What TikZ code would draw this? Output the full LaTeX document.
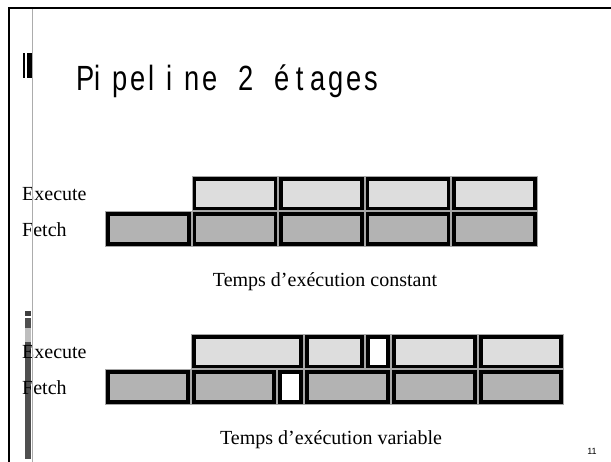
\documentclass[tikz,border=0pt]{standalone}
\usepackage{fontspec}
\setmainfont{Liberation Serif}
\newfontfamily\titlefont[FakeStretch=0.78]{Liberation Sans}
\newfontfamily\pagefont{Liberation Sans}
\definecolor{execgray}{HTML}{DDDDDD}
\definecolor{fetchgray}{HTML}{B3B3B3}
\definecolor{bardark}{HTML}{4F4F4F}
\definecolor{barlight}{HTML}{BEBEBE}
\makeatletter
\newcommand\monocells[1]{\@tfor\mc@char:=#1\do{\makebox[18pt][l]{\mc@char}}}
\makeatother
\tikzset{
  stage/.style={rectangle, inner sep=0pt, outer sep=0pt, draw=black, line width=3.6pt,
    minimum height=29.9pt, preaction={draw=gray!70, line width=5.6pt}},
  fetchbox/.style={stage, fill=fetchgray},
  execbox/.style={stage, fill=execgray},
  bubble/.style={stage, fill=white},
  rowlabel/.style={anchor=west, inner sep=0pt, font=\fontsize{20}{20}\selectfont},
  caption/.style={inner sep=0pt, font=\fontsize{20}{20}\selectfont},
}
\begin{document}
\begin{tikzpicture}[x=1pt, y=-1pt]
    \useasboundingbox (0,0) rectangle (611,462);
    \draw [line width=2pt] (9,462) -- (9,8) -- (611,8);
    \fill (23,53) rectangle (25,78);
    \fill (27,53) rectangle (33,78);
    \fill [bardark!80!black] (25,311) rectangle (31,316);
    \fill [bardark] (25,318) rectangle (31,328);
    \fill [barlight] (25,328) rectangle (31,342);
    \fill [bardark] (25,342) rectangle (31,459);
    \node [anchor=base west, inner sep=0pt, font=\titlefont\fontsize{35}{35}\selectfont] (title) at (76,91) {\monocells{Pipeline{ }2{ }é{\makebox[15pt][c]{t}}ages}};
    \foreach \i in {0,...,4}
        \node [fetchbox, minimum width=81pt] (tf\i) at ({148.3+86.6*\i}, 229.25) {};
    \foreach \i in {1,...,4}
        \node [execbox, minimum width=81pt] (te\i) at ({148.3+86.6*\i}, 193.75) {};
    \foreach \l/\r/\s/\n in {105/191/fetchbox/vf1, 191/277/fetchbox/vf2, 277/304/bubble/vf3, 304/391/fetchbox/vf4, 391/478/fetchbox/vf5, 478/564/fetchbox/vf6} {
        \pgfmathsetmacro\w{\r-\l-5.6}
        \node [\s, minimum width=\w pt] (\n) at ({(\l+\r)/2}, 387.25) {};
    }
    \foreach \l/\r/\s/\n in {191/304/execbox/ve1, 304/365/execbox/ve2, 365/391/bubble/ve3, 391/478/execbox/ve4, 478/564/execbox/ve5} {
        \pgfmathsetmacro\w{\r-\l-5.6}
        \node [\s, minimum width=\w pt] (\n) at ({(\l+\r)/2}, 351.75) {};
    }
    \node [rowlabel] (texec) at (22,193.75) {Execute};
    \node [rowlabel] (tfetch) at (22,229.25) {Fetch};
    \node [rowlabel] (vexec) at (22,351.75) {Execute};
    \node [rowlabel] (vfetch) at (22,387.25) {Fetch};
    \node [caption] (tcap) at (325,282) {Temps d’exécution constant};
    \node [caption] (vcap) at (331,440) {Temps d’exécution variable};
    \node [inner sep=0pt, font=\pagefont\fontsize{9}{9}\selectfont] (page) at (592,451) {11};
    \draw [gray!65, line width=1pt] (32,9) -- (32,462);
\end{tikzpicture}
\end{document}
